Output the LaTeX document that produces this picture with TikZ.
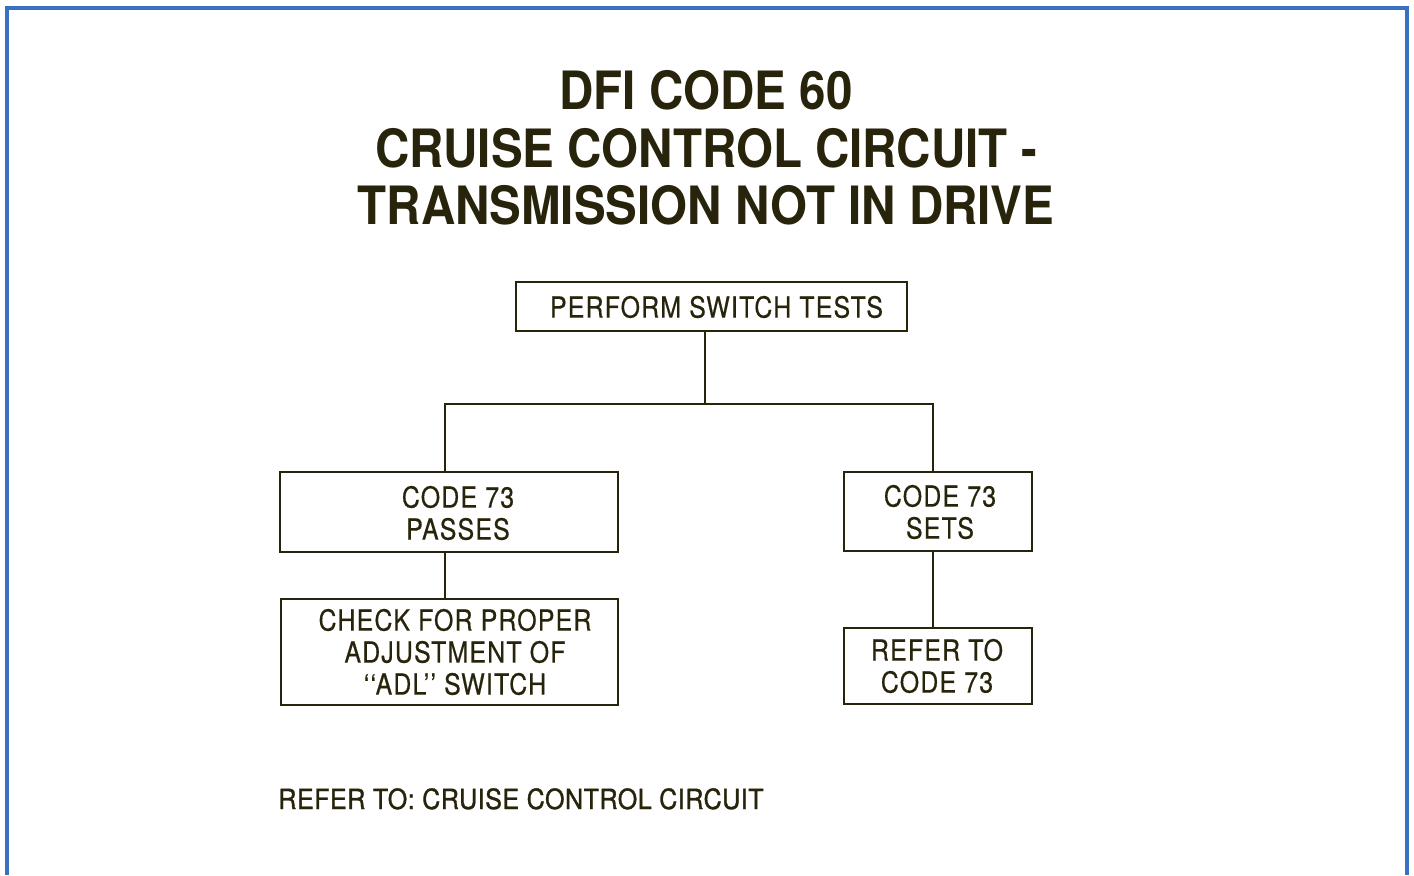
\documentclass[tikz,border=0pt]{standalone}
\usepackage{fontspec}
\setmainfont{TeX Gyre Heros}
\newfontfamily\titlefont[FakeStretch=0.9]{TeX Gyre Heros}
\newfontfamily\boxfont[FakeStretch=0.86,LetterSpace=4,FakeBold=0.5]{TeX Gyre Heros}
\newfontfamily\notefont[FakeStretch=0.9,LetterSpace=2,FakeBold=1.2]{TeX Gyre Heros}
\definecolor{ink}{RGB}{40,36,12}
\definecolor{frame}{RGB}{58,112,192}
\begin{document}
\begin{tikzpicture}[x=0.5pt,y=-0.5pt,
  box/.style={draw=ink, line width=1.4pt, rectangle, inner sep=0pt},
  boxtext/.style={inner sep=0pt, align=center, text=ink,
    font=\boxfont\fontsize{14.5}{16}\selectfont},
  link/.style={draw=ink, line width=1.2pt}]
\useasboundingbox (0,0) rectangle (1414,875);
\fill[white] (0,0) rectangle (1414,875);
% blue frame (open at the bottom)
\draw[frame, line width=2.2pt] (7,875) -- (7,8) -- (1407,8) -- (1407,875);
% title
\node[text=ink, align=center, inner sep=0pt,
  font=\titlefont\bfseries\fontsize{26.4}{28.75}\selectfont] (title) at (706,148)
  {DFI CODE 60\\CRUISE CONTROL CIRCUIT -\\TRANSMISSION NOT IN DRIVE};
% boxes
\node[box, minimum width=195.5pt, minimum height=24.5pt] (test) at (711.5,306.5) {};
\node[box, minimum width=169pt, minimum height=40pt] (pass) at (449,512) {};
\node[box, minimum width=94pt, minimum height=39.5pt] (sets) at (938,511.5) {};
\node[box, minimum width=168.5pt, minimum height=53pt] (check) at (449.5,652) {};
\node[box, minimum width=94pt, minimum height=38pt] (refer) at (938,666) {};
% box texts
\node[boxtext] (testT) at (716.5,307) {PERFORM SWITCH TESTS};
\node[boxtext] (passT) at (458,513) {CODE 73\\PASSES};
\node[boxtext] (setsT) at (940,512) {CODE 73\\SETS};
\node[boxtext] (checkT) at (455,652) {CHECK FOR PROPER\\ADJUSTMENT OF\\‘‘ADL’’ SWITCH};
\node[boxtext] (referT) at (937,666) {REFER TO\\CODE 73};
% junctions
\coordinate (j) at (705,404);
\coordinate (jl) at (445,404);
\coordinate (jr) at (933,404);
% connectors
\draw[link] (test.south -| j) -- (j);
\draw[link] (pass.north -| jl) -- (jl) -- (jr) -- (sets.north -| jr);
\draw[link] (pass.south -| jl) -- (check.north -| jl);
\draw[link] (sets.south -| jr) -- (refer.north -| jr);
% footer note
\node[text=ink, anchor=base west, inner sep=0pt,
  font=\notefont\fontsize{13.9}{16}\selectfont] (note) at (278,809)
  {REFER TO: CRUISE CONTROL CIRCUIT};
\end{tikzpicture}
\end{document}
